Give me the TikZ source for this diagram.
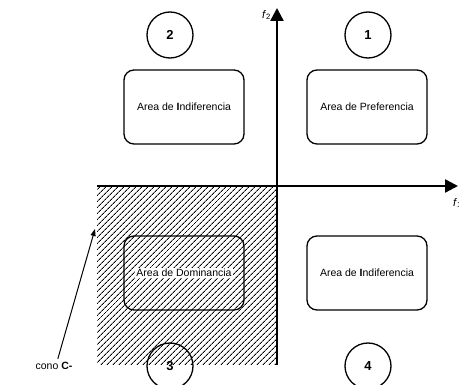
\documentclass[tikz,border=0pt]{standalone}
\usepackage{fontspec}
\setmainfont{Liberation Sans}
\usepackage{tikz}
\usetikzlibrary{arrows.meta}
\usetikzlibrary{patterns.meta}

\tikzset{
	area/.style={draw=black,line width=1.3pt,rounded corners=10pt,minimum width=120pt,minimum height=74pt,font=\fontsize{10.5}{12}\selectfont},
	zona/.style={circle,draw=black,line width=1.3pt,minimum size=46pt,inner sep=0pt,font=\fontsize{13}{14}\selectfont\bfseries},
	eje/.style={line width=2.4pt,-{Triangle[length=13pt,width=13pt]}}
}

\begin{document}
\begin{tikzpicture}[x=1pt,y=-1pt]
			\useasboundingbox (0,0) rectangle (459,385);
			
			% cono C-
			
			\fill[pattern={Lines[angle=45,distance=4pt,line width=1pt]}] (97,186) rectangle (277,365);
			
			% ejes
			
			\coordinate (O) at (277,186);
			\coordinate (X0) at (97,186);
			\coordinate (X1) at (458,186);
			\coordinate (Y0) at (277,365);
			\coordinate (Y1) at (277,8);
			\draw[eje] (X0) -- (X1);
			\draw[eje] (Y0) -- (Y1);
			\node[anchor=west,inner sep=0pt] (F1) at (453,203) {\fontsize{11}{12}\selectfont\textit{f}\textsubscript{1}};
			\node[anchor=east,inner sep=0pt] (F2) at (271,15) {\fontsize{11}{12}\selectfont\textit{f}\textsubscript{2}};
			
			% areas
			
			\node[area] (A1) at (367,107) {Area de Preferencia};
			\node[area] (A2) at (184,107) {Area de \textbf{I}ndiferencia};
			\node[area] (A3) at (184,273) {};
			\node[fill=white,inner sep=1pt,font=\fontsize{10.5}{12}\selectfont] (T3) at (A3) {Area de Dominancia};
			\node[area] (A4) at (367,273) {Area de \textbf{I}ndiferencia};
			
			% numeros
			
			\node[zona] (Z1) at (368,35) {1};
			\node[zona] (Z2) at (170,35) {2};
			\node[zona] (Z3) at (170,366) {3};
			\node[zona] (Z4) at (368,366) {4};
			
			\node[font=\fontsize{10.5}{12}\selectfont] (cono) at (54,366) {cono \textbf{C-}};
			\coordinate (C) at (95,229);
			\draw[line width=1pt,-{Triangle[length=7pt,width=5pt]}] (cono.62) -- (C);
		\end{tikzpicture}
\end{document}
